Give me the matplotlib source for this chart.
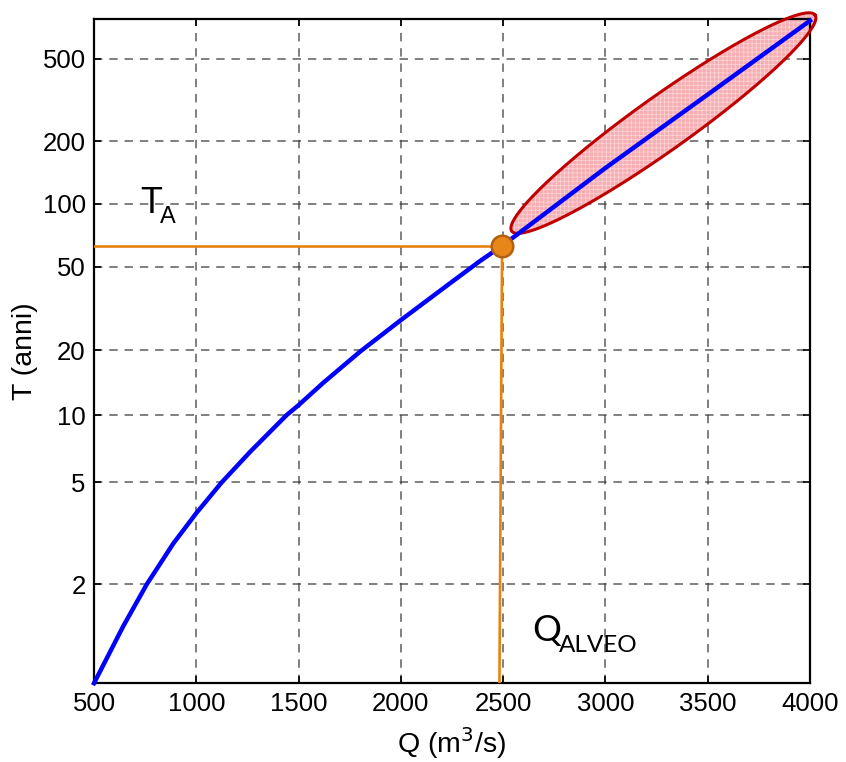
import numpy as np
import matplotlib
matplotlib.use("Agg")
import matplotlib.pyplot as plt
from matplotlib.ticker import FixedLocator, FixedFormatter, NullLocator

plt.rcParams['font.family'] = ['Liberation Sans', 'DejaVu Sans']

# curva Q - T
Q = [500, 643, 758, 888, 1000, 1124, 1263, 1442, 1500, 1621, 1800, 2000,
     2224, 2387, 2496, 3000, 3500, 4000]
T = [1.142, 1.495, 2.0, 2.81, 3.71, 5.0, 6.81, 10.0, 11.1, 14.1, 19.7, 27.8,
     40.5, 53.2, 63.0, 148.9, 336.5, 765]

Q_alveo = 2490
T_A = 63.0
Q_alveo_base = 2482   # the vertical line is slightly tilted

ell_tip1 = (2542, 74)
ell_tip2 = (4025, 815)

xticks = [500, 1000, 1500, 2000, 2500, 3000, 3500, 4000]
yticks = [2, 5, 10, 20, 50, 100, 200, 500]


def gumbel(t):
    t = np.asarray(t, dtype=float)
    t = np.clip(t, 1.0000001, None)
    return -np.log(-np.log(1 - 1 / t))


def gumbel_inv(y):
    y = np.asarray(y, dtype=float)
    return 1 / (1 - np.exp(-np.exp(-y)))


fig = plt.figure(figsize=(8.46, 7.62), dpi=100)
ax = fig.add_axes([0.1111, 0.1033, 0.8463, 0.8718])
ax.set_yscale('function', functions=(gumbel, gumbel_inv))
ax.set_xlim(500, 4000)
ax.set_ylim(1.1417, 780)

ax.xaxis.set_major_locator(FixedLocator(xticks))
ax.yaxis.set_major_locator(FixedLocator(yticks))
ax.yaxis.set_major_formatter(FixedFormatter([str(v) for v in yticks]))
ax.yaxis.set_minor_locator(NullLocator())
ax.xaxis.set_minor_locator(NullLocator())

ax.grid(True, color='0.25', lw=1.1, linestyle=(0, (5.5, 4.5)), alpha=0.85)
ax.set_axisbelow(True)
ax.tick_params(direction='in', length=5, width=1.2, top=True, right=True,
               labelsize=18.5, pad=6)
for s in ax.spines.values():
    s.set_linewidth(1.6)

# ellipse built in pixel space, then mapped back to data coords
p1 = ax.transData.transform(ell_tip1)
p2 = ax.transData.transform(ell_tip2)
c = (p1 + p2) / 2
a = np.hypot(*(p2 - p1)) / 2
b = 27.0
ang = np.arctan2(p2[1] - p1[1], p2[0] - p1[0])
th = np.linspace(0, 2 * np.pi, 300)
ex = c[0] + a * np.cos(th) * np.cos(ang) - b * np.sin(th) * np.sin(ang)
ey = c[1] + a * np.cos(th) * np.sin(ang) + b * np.sin(th) * np.cos(ang)
pts = ax.transData.inverted().transform(np.column_stack([ex, ey]))
ax.fill(pts[:, 0], pts[:, 1], facecolor='#f7aeb3', edgecolor='none',
        zorder=2, clip_on=False)
plt.rcParams['hatch.linewidth'] = 0.5
ax.fill(pts[:, 0], pts[:, 1], facecolor='none', edgecolor='white',
        hatch='++++', lw=0, zorder=2, clip_on=False, alpha=0.5)
ax.plot(pts[:, 0], pts[:, 1], color='#c00000', lw=2.2, zorder=3,
        clip_on=False)

ax.plot(Q, T, color='#0000ff', lw=3.2, zorder=4, clip_on=False,
        solid_joinstyle='round')

orange = '#e8820e'
ax.plot([500, Q_alveo], [T_A, T_A], color=orange, lw=1.9, zorder=3)
ax.plot([Q_alveo_base, Q_alveo + 5], [1.1417, T_A], color=orange, lw=1.9,
        zorder=3)
ax.plot([Q_alveo + 5], [T_A], 'o', ms=15.5, mfc='#e8861a', mec='#b06010',
        mew=1.8, zorder=5)

ax.text(0.0642, 0.7075, 'T', transform=ax.transAxes, fontsize=26,
        ha='left', va='baseline')
ax.text(0.0925, 0.6925, 'A', transform=ax.transAxes, fontsize=17,
        ha='left', va='baseline')
ax.text(0.6127, 0.0637, 'Q', transform=ax.transAxes, fontsize=26,
        family='Lato', ha='left', va='baseline')
ax.text(0.6500, 0.0476, 'ALVEO', transform=ax.transAxes, fontsize=17.5,
        family='Lato', ha='left', va='baseline')

ax.set_xlabel('Q (m$^3$/s)', fontsize=20.5, labelpad=7)
ax.set_ylabel('T (anni)', fontsize=20.5, labelpad=3)

fig.savefig('out.png', dpi=100)
